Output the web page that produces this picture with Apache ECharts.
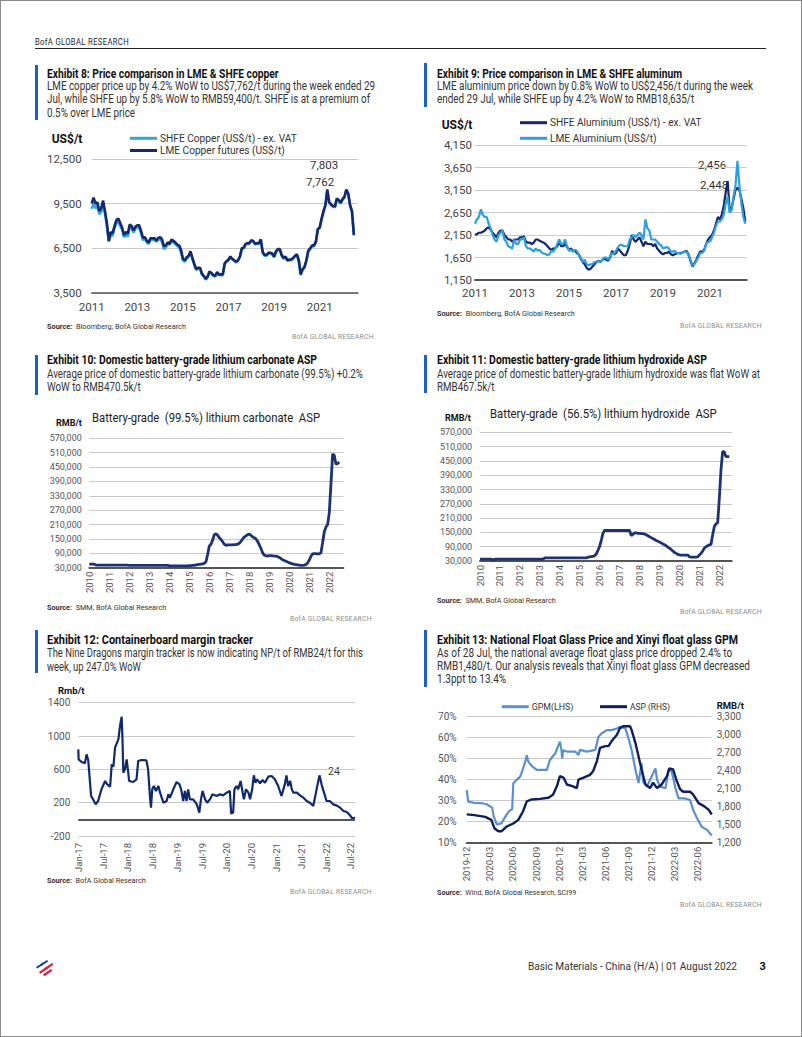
<!DOCTYPE html>
<html><head><meta charset="utf-8">
<script src="https://cdn.jsdelivr.net/npm/echarts@6/dist/echarts.min.js"></script>
<style>
html,body{margin:0;padding:0;background:#fff;}
body{width:802px;height:1037px;position:relative;overflow:hidden;font-family:Roboto,sans-serif;color:#222;}
#frame{position:absolute;left:0;top:0;width:800px;height:1035px;border:1px solid #8a8a8a;}
.t{position:absolute;white-space:nowrap;}
.bar{position:absolute;left:35px;width:3px;background:#1d5fc4;}
.bar.r{left:424px;}
.ttl{font-weight:bold;font-size:12px;line-height:14px;color:#111;}
.sub{font-size:12px;line-height:13.4px;color:#333;}
.src{font-size:8px;line-height:10px;color:#333;}
.bofa{font-size:8px;line-height:10px;color:#8c8c8c;letter-spacing:0.3px;}
.ctitle{font-size:13.5px;line-height:16px;color:#222;}
#chart{position:absolute;left:0;top:0;width:802px;height:1037px;}
</style></head>
<body>
<div id="frame"></div>
<div class="t" data-w="94" style="left:35px;top:36.5px;font-size:8.5px;line-height:10px;letter-spacing:0.4px;color:#222;">BofA GLOBAL RESEARCH</div>
<div style="position:absolute;left:35px;top:47.5px;width:731px;height:1.5px;background:#222;"></div>

<!-- Exhibit 8 -->
<div class="bar" style="top:65px;height:55px;"></div>
<div class="t ttl" data-w="231.6" style="left:46.7px;top:67px;">Exhibit 8: Price comparison in LME &amp; SHFE copper</div>
<div class="t sub" data-w="328" style="left:47.3px;top:80px;">LME copper price up by 4.2% WoW to US$7,762/t during the week ended 29<br>Jul, while SHFE up by 5.8% WoW to RMB59,400/t. SHFE is at a premium of<br>0.5% over LME price</div>
<div class="t src" data-w="139" style="left:47.3px;top:321.7px;"><b>Source:</b>&nbsp; Bloomberg, BofA Global Research</div>
<div class="t bofa" data-w="81.7" style="left:291.7px;top:331.7px;">BofA GLOBAL RESEARCH</div>

<!-- Exhibit 9 -->
<div class="bar r" style="top:63px;height:44px;"></div>
<div class="t ttl" data-w="245" style="left:436.7px;top:67px;">Exhibit 9: Price comparison in LME &amp; SHFE aluminum</div>
<div class="t sub" data-w="316" style="left:437.3px;top:80px;">LME aluminium price down by 0.8% WoW to US$2,456/t during the week<br>ended 29 Jul, while SHFE up by 4.2% WoW to RMB18,635/t</div>
<div class="t src" data-w="137.7" style="left:437.3px;top:309.3px;"><b>Source:</b>&nbsp; Bloomberg, BofA Global Research</div>
<div class="t bofa" data-w="81.7" style="left:680px;top:320.7px;">BofA GLOBAL RESEARCH</div>

<!-- Exhibit 10 -->
<div class="bar" style="top:355px;height:40px;"></div>
<div class="t ttl" data-w="270" style="left:46.7px;top:353px;">Exhibit 10: Domestic battery-grade lithium carbonate ASP</div>
<div class="t sub" data-w="316" style="left:47.3px;top:367.6px;">Average price of domestic battery-grade lithium carbonate (99.5%) +0.2%<br>WoW to RMB470.5k/t</div>
<div class="t ctitle" data-w="228" style="left:91.7px;top:408.7px;">Battery-grade&nbsp; (99.5%) lithium carbonate&nbsp; ASP</div>
<div class="t src" data-w="119.3" style="left:47.3px;top:603.3px;"><b>Source:</b>&nbsp; SMM, BofA Global Research</div>
<div class="t bofa" data-w="81.7" style="left:290px;top:614.3px;">BofA GLOBAL RESEARCH</div>

<!-- Exhibit 11 -->
<div class="bar r" style="top:355px;height:38px;"></div>
<div class="t ttl" data-w="270" style="left:436.7px;top:353px;">Exhibit 11: Domestic battery-grade lithium hydroxide ASP</div>
<div class="t sub" data-w="323" style="left:437.3px;top:367.6px;">Average price of domestic battery-grade lithium hydroxide was flat WoW at<br>RMB467.5k/t</div>
<div class="t ctitle" data-w="226.7" style="left:490px;top:405.3px;">Battery-grade&nbsp; (56.5%) lithium hydroxide&nbsp; ASP</div>
<div class="t src" data-w="118.7" style="left:437.3px;top:596px;"><b>Source:</b>&nbsp; SMM, BofA Global Research</div>
<div class="t bofa" data-w="81.7" style="left:680px;top:606.7px;">BofA GLOBAL RESEARCH</div>

<!-- Exhibit 12 -->
<div class="bar" style="top:630px;height:43px;"></div>
<div class="t ttl" data-w="206" style="left:46.7px;top:633px;">Exhibit 12: Containerboard margin tracker</div>
<div class="t sub" data-w="316" style="left:47.3px;top:647.3px;">The Nine Dragons margin tracker is now indicating NP/t of RMB24/t for this<br>week, up 247.0% WoW</div>
<div class="t src" data-w="98.7" style="left:47.3px;top:876px;"><b>Source:</b>&nbsp; BofA Global Research</div>
<div class="t bofa" data-w="81.7" style="left:290.3px;top:886.7px;">BofA GLOBAL RESEARCH</div>

<!-- Exhibit 13 -->
<div class="bar r" style="top:630px;height:57px;"></div>
<div class="t ttl" data-w="301" style="left:436.7px;top:633px;">Exhibit 13: National Float Glass Price and Xinyi float glass GPM</div>
<div class="t sub" data-w="313" style="left:437.3px;top:647.3px;line-height:13px;">As of 28 Jul, the national average float glass price dropped 2.4% to<br>RMB1,480/t. Our analysis reveals that Xinyi float glass GPM decreased<br>1.3ppt to 13.4%</div>
<div class="t src" data-w="139.3" style="left:437.3px;top:888.3px;"><b>Source:</b>&nbsp; Wind, BofA Global Research, SCI99</div>
<div class="t bofa" data-w="81.7" style="left:680.3px;top:900px;">BofA GLOBAL RESEARCH</div>

<!-- footer -->
<svg style="position:absolute;left:35px;top:959px;" width="24" height="18" viewBox="0 0 24 18">
  <polygon points="1,8 8,3.5 9.2,5 2.2,9.5" fill="#1f3f8f"/>
  <polygon points="5,5.5 12,1 13.2,2.5 6.2,7" fill="#1f3f8f"/>
  <polygon points="4,13 12,7.5 13.3,9.2 5.3,14.7" fill="#e31837"/>
  <polygon points="8,15.5 16,10 17.3,11.7 9.3,17.2" fill="#e31837"/>
  <polygon points="9,9.5 17,4 18.3,5.7 10.3,11.2" fill="#e31837"/>
</svg>
<div class="t" data-w="209" style="left:528px;top:960px;font-size:11px;line-height:14px;color:#333;">Basic Materials - China (H/A) | 01 August 2022</div>
<div class="t" style="left:759.5px;top:960px;font-size:11px;line-height:14px;font-weight:bold;color:#111;">3</div>

<div id="chart"></div>
<script>
// ================= DATA =================
// Exhibit 8 – copper, monthly from Jan 2011 (US$/t)
const cuStartYear = 2011;
const cuSHFE = [
 9150,9500,9200,9350,8800,8950,9400,8800,8000,6950,7400,7350,
 7850,8200,8300,8000,7750,7250,7400,7300,7900,7850,7550,7800,
 7900,7900,7500,7050,7150,6900,6800,7100,7050,7100,6950,7100,
 7100,6950,6450,6550,6800,6750,7000,6900,6800,6650,6550,6250,
 5700,5600,5800,5950,6200,5800,5400,5050,5150,5150,4750,4600,
 4400,4550,4900,4800,4650,4600,4850,4700,4700,4700,5450,5600,
 5700,5900,5750,5650,5550,5650,5900,6450,6500,6750,6800,6800,
 7000,6950,6750,6800,6800,7050,6200,6000,6000,6150,6150,6100,
 5900,6250,6400,6400,6000,5800,5900,5650,5700,5700,5800,5950,
 6050,5650,4700,5050,5200,5650,6300,6450,6650,6650,6900,7750,
 7850,8450,8950,9350,10350,9550,9400,9300,9250,9800,9700,9500,
 9750,9900,10400,10150,9350,8950,7350];
const cuLME = [
 9500,9900,9500,9600,9000,9200,9700,9000,8200,7000,7600,7500,
 8000,8400,8500,8200,7900,7400,7600,7500,8100,8000,7700,7950,
 8050,8050,7650,7200,7250,7000,6900,7200,7150,7200,7000,7200,
 7250,7100,6650,6700,6900,6800,7100,7000,6900,6750,6700,6400,
 5800,5700,5900,6000,6300,5850,5450,5100,5200,5200,4800,4650,
 4450,4600,4950,4850,4700,4650,4900,4750,4750,4750,5500,5650,
 5750,5950,5800,5700,5600,5700,5950,6500,6550,6800,6850,6850,
 7050,7000,6800,6850,6850,7100,6250,6050,6050,6200,6200,6150,
 5950,6300,6450,6450,6050,5850,5950,5700,5750,5750,5850,6000,
 6100,5700,4750,5100,5250,5700,6350,6500,6700,6700,6950,7800,
 7900,8500,9000,9400,10450,9600,9450,9350,9300,9850,9750,9550,
 9800,9950,10450,10200,9400,9000,7400];

// Exhibit 9 – aluminium, monthly from Jan 2011 (US$/t)
const alStartYear = 2011;
const alSHFE = [
 2150,2170,2200,2200,2220,2250,2300,2320,2270,2200,2150,2100,
 2200,2250,2250,2150,2100,2050,2050,2000,2050,2050,2050,2100,
 2100,2120,2000,1980,1980,1950,1980,2050,2050,2020,2000,1980,
 1950,1900,1850,1820,1850,1860,1900,2000,1900,1900,1960,1880,
 1820,1850,1800,1800,1750,1720,1620,1550,1500,1420,1380,1400,
 1450,1500,1550,1580,1550,1600,1620,1600,1580,1650,1800,1720,
 1750,1850,1800,1750,1700,1700,1800,1950,2150,2050,2000,2050,
 2100,2000,1900,2000,1950,1950,1950,1900,1950,1850,1800,1750,
 1720,1750,1750,1780,1720,1700,1720,1740,1750,1750,1760,1780,
 1800,1720,1580,1450,1520,1600,1700,1780,1780,1820,1950,2050,
 2100,2150,2250,2400,2550,2500,2600,2800,3100,3350,2700,2750,
 2950,3150,3200,3150,2950,2750,2450];
const alLME = [
 2400,2500,2550,2720,2600,2550,2550,2400,2300,2150,2050,2000,
 2150,2200,2250,2050,2000,1900,1880,1850,2050,1950,1950,2050,
 2050,2100,1900,1850,1850,1820,1780,1850,1800,1820,1760,1740,
 1730,1700,1720,1800,1780,1850,1950,2050,1950,1950,2050,1900,
 1800,1820,1780,1820,1800,1700,1650,1550,1600,1500,1480,1500,
 1500,1550,1550,1570,1550,1600,1650,1650,1600,1680,1750,1730,
 1800,1880,1930,1930,1900,1900,1900,2050,2100,2150,2100,2150,
 2200,2150,2050,2500,2300,2250,2050,2050,2050,2000,1950,1920,
 1850,1870,1880,1850,1780,1780,1800,1750,1750,1730,1770,1780,
 1780,1700,1600,1480,1500,1580,1650,1750,1750,1800,1950,2000,
 2000,2100,2200,2350,2450,2450,2500,2600,2850,3000,2650,2700,
 3000,3250,3800,3250,2850,2550,2400];

// Exhibit 10 – lithium carbonate, monthly from Jan 2010 (RMB/t)
const liStartYear = 2010;
const li2co3 = [
 45000,45000,45000,45000,41000,41000,41000,41000,41000,41000,41000,41000,
 41000,41000,41000,41000,41000,41000,41000,41000,41000,41000,41000,41000,
 40000,40000,40000,40000,40000,40000,40000,40000,40000,40000,40000,40000,
 40000,40000,40000,40000,40000,40000,40000,40000,40000,40000,40000,40000,
 38000,38000,38000,38000,38000,38000,38000,38000,38000,38000,38000,38000,
 39000,39000,40000,40000,42000,43000,44000,45000,46000,48000,55000,85000,
 120000,128000,145000,168000,172000,165000,155000,148000,138000,128000,123000,125000,
 125000,125000,125000,126000,126000,128000,132000,140000,150000,158000,163000,168000,
 170000,165000,158000,155000,150000,140000,125000,110000,92000,82000,80000,78000,
 80000,80000,79000,78000,78000,76000,73000,68000,63000,60000,57000,54000,
 50000,48000,46000,44000,43000,42000,41000,40000,40000,41000,43000,50000,
 62000,78000,88000,89000,89000,88000,88000,92000,135000,180000,200000,210000,
 260000,380000,505000,498000,462000,465000,471000];

// Exhibit 11 – lithium hydroxide, monthly from Jan 2010 (RMB/t)
const lioh = [
 38000,38000,38000,38000,38000,38000,38000,38000,33000,38000,38000,38000,
 38000,38000,38000,38000,38000,38000,38000,38000,38000,38000,38000,38000,
 38000,38000,38000,38000,38000,38000,38000,38000,38000,38000,38000,38000,
 38000,38000,38000,43000,43000,43000,43000,43000,43000,43000,43000,43000,
 43000,43000,43000,43000,43000,43000,43000,43000,43000,43000,43000,43000,
 43000,43000,43000,43000,43000,46000,47000,48000,49000,52000,60000,75000,
 92000,118000,146000,160000,158000,158000,158000,158000,158000,158000,158000,158000,
 158000,158000,158000,158000,158000,158000,158000,137000,142000,148000,148000,146000,
 146000,145000,145000,143000,140000,136000,132000,128000,124000,120000,116000,113000,
 110000,106000,102000,98000,94000,88000,84000,78000,72000,66000,62000,58000,
 56000,55000,55000,55000,55000,55000,47000,46000,46000,46000,46000,47000,
 55000,62000,72000,84000,90000,94000,98000,100000,140000,175000,186000,190000,
 294000,413000,490000,487000,468000,468000,468000];

// Exhibit 12 – containerboard margin (month index from Jan-17, RMB/t)
const cbTickLabels = ['Jan-17','Jul-17','Jan-18','Jul-18','Jan-19','Jul-19','Jan-20','Jul-20','Jan-21','Jul-21','Jan-22','Jul-22'];
const cbMonth = [0,0.08,0.8,1.6,2.0,2.4,3.1,3.5,4.2,4.8,5.6,6.5,7.0,7.7,8.1,8.5,8.9,9.7,10.1,10.5,10.7,10.9,11.3,11.7,12.1,12.3,13.3,14.1,14.5,15.3,16.5,16.9,17.4,17.6,17.9,18.3,18.8,19.4,19.8,20.6,21.4,21.8,22.2,23.0,23.8,24.5,24.9,25.4,25.8,26.2,26.6,27.0,27.8,28.7,29.3,29.7,30.1,30.7,31.2,31.9,32.5,33.5,34.3,35.1,35.9,36.7,37.0,37.5,37.8,38.3,38.7,39.3,39.8,40.1,40.6,41.2,41.6,42.1,42.5,42.9,43.3,44.0,44.6,45.2,46.0,46.8,47.6,48.4,49.2,50.0,50.4,50.8,51.3,51.7,52.1,52.9,53.7,54.5,55.3,56.1,56.9,57.7,58.4,58.9,59.5,60.1,60.9,61.7,62.5,63.4,64.2,65.0,65.8,66.4,67.0];
const cbValue = [840,720,688,672,780,712,280,248,180,220,360,460,420,392,660,632,860,960,1120,1232,960,560,600,720,560,460,448,480,700,712,708,600,240,140,360,400,340,400,320,200,220,300,260,360,448,420,360,220,340,220,360,240,240,180,80,240,340,240,200,240,300,280,300,288,320,340,72,80,360,400,360,460,320,240,360,320,240,360,528,440,480,432,472,440,512,520,480,400,280,420,528,400,460,360,320,320,288,260,220,200,160,360,528,420,320,220,220,180,168,140,100,88,48,7,24];

// Exhibit 13 – float glass (month index from Dec 2019)
const glTickLabels = ['2019-12','2020-03','2020-06','2020-09','2020-12','2021-03','2021-06','2021-09','2021-12','2022-03','2022-06'];
const gpmMonth = [0,0.2,1,2,2.6,3.3,3.5,3.9,4.5,5.2,5.5,5.9,6.05,6.5,6.9,7.1,7.6,7.8,8.0,8.5,9.1,10.4,10.8,11.5,12.1,12.3,12.4,12.5,13,14.1,14.5,14.7,15.6,16.7,17.1,17.5,18.2,18.8,19.5,19.9,20.6,21,21.4,21.9,22.3,22.5,22.7,22.9,23.4,24,24.5,24.7,25.1,25.8,26.2,26.6,27.1,27.5,28.3,29,29.4,29.9,30.5,31.2,31.8];
const gpmValue = [35,29.5,29,28.8,28.3,26.7,22.7,18.7,19.2,23.5,25,26,38.3,40,41.2,43,48.6,51.7,48.6,46.3,44.7,44.7,49.4,52.6,58.1,54.2,50,54,53.4,53.4,51.7,54.2,53.4,54.2,60.5,62,63.6,63.6,64.4,65.2,64.4,59.7,54.2,44.7,38.4,43,47.8,39,36.7,41.5,45.4,40,36.7,35.9,44.7,44,35.9,31.1,31.1,30.3,25.6,21.6,17.6,16.1,13.4];
const aspMonth = [0,1,2.4,3.2,3.6,4.1,4.5,5.2,6.05,6.7,7.3,7.8,8.4,9.5,10.6,11.2,11.7,12.1,12.6,13,13.8,14.3,14.5,15.1,16,16.4,16.9,17.3,18,18.4,18.8,19.5,19.9,20.3,21.2,21.4,21.9,22.3,22.7,23.2,23.8,24.2,24.7,25.3,26,26.3,26.8,27.2,27.7,28.1,29,29.4,30.1,30.8,31.4,31.8];
const aspValue = [1673,1660,1630,1580,1440,1390,1390,1470,1520,1580,1720,1890,1920,1930,1950,2000,2140,2310,2280,2170,2140,2110,2250,2280,2330,2390,2560,2780,2810,2810,2890,3000,3110,3140,3140,3080,2860,2640,2420,2170,2110,2200,2110,2170,2310,2440,2420,2250,2090,2050,2050,2000,1860,1810,1750,1670];

// ================= TEXT FITTING (layout only) =================
document.querySelectorAll('[data-w]').forEach(el => {
  const nat = el.getBoundingClientRect().width;
  if (nat > 0) {
    el.style.transformOrigin = '0 0';
    el.style.transform = 'scaleX(' + (parseFloat(el.dataset.w) / nat).toFixed(4) + ')';
  }
});
const FONT = "Roboto, sans-serif";
const mctx = document.createElement('canvas').getContext('2d');
function fitSize(text, target, weight, maxSize) {
  mctx.font = (weight || 'normal') + ' 100px ' + FONT;
  const s = 100 * target / mctx.measureText(text).width;
  return Math.min(s, maxSize || 99);
}

// ================= CHART =================
const NAVY = '#14286b', LIGHT = '#34a6de';
const monthly = (start, arr) => arr.map((v, i) => [start + i / 12, v]);
const pairs = (xs, ys) => xs.map((x, i) => [x, ys[i]]);
const fmtK = v => v.toLocaleString('en-US');
const intOnly = v => Number.isInteger(v) ? String(v) : '';
const GRID_LINE = {show: true, lineStyle: {color: '#c9c9c9', width: 1}};
const AX_LINE = (w) => ({show: true, onZero: false, lineStyle: {color: '#555', width: w}});

const grids = [
  {left: 91.7, top: 159, width: 266.3, height: 134},
  {left: 475, top: 145, width: 271.7, height: 135},
  {left: 89.3, top: 438.3, width: 254, height: 129.4},
  {left: 480, top: 432.3, width: 251.7, height: 128.7},
  {left: 78.3, top: 702.7, width: 276.7, height: 133.3},
  {left: 466.7, top: 716.7, width: 245, height: 126}
].map(g => Object.assign({containLabel: false, outerBoundsMode: 'none'}, g));

const xAxes = [
  {gridIndex: 0, type: 'value', min: 2011, max: 2022.68, interval: 2, axisLine: AX_LINE(1.5), axisTick: {show: false}, splitLine: {show: false},
   axisLabel: {color: '#444', fontSize: 11.5, margin: 8, showMaxLabel: false, formatter: intOnly}},
  {gridIndex: 1, type: 'value', min: 2011, max: 2022.56, interval: 2, axisLine: AX_LINE(2), axisTick: {show: false}, splitLine: {show: false},
   axisLabel: {color: '#444', fontSize: 11.5, margin: 7, showMaxLabel: false, formatter: intOnly}},
  {gridIndex: 2, type: 'value', min: 2010, max: 2022.7, interval: 1, axisLine: AX_LINE(2), axisTick: {show: false}, splitLine: {show: false},
   axisLabel: {color: '#555', fontSize: 9.5, margin: 4, rotate: 90, showMaxLabel: false, formatter: intOnly}},
  {gridIndex: 3, type: 'value', min: 2010, max: 2022.62, interval: 1, axisLine: AX_LINE(2), axisTick: {show: false}, splitLine: {show: false},
   axisLabel: {color: '#555', fontSize: 9.5, margin: 4, rotate: 90, showMaxLabel: false, formatter: intOnly}},
  {gridIndex: 4, type: 'value', min: 0, max: 67, interval: 6, axisLine: {show: false}, axisTick: {show: false}, splitLine: {show: false},
   axisLabel: {color: '#555', fontSize: 9.5, margin: 7, rotate: 90, showMaxLabel: false,
     formatter: v => (v % 6 === 0 && cbTickLabels[v / 6]) || ''}},
  {gridIndex: 5, type: 'value', min: 0, max: 31.8, interval: 3, axisLine: AX_LINE(2), axisTick: {show: false}, splitLine: {show: false},
   axisLabel: {color: '#555', fontSize: 9.5, margin: 4, rotate: 90, showMaxLabel: false,
     formatter: v => (v % 3 === 0 && glTickLabels[v / 3]) || ''}}
];

const yAxes = [
  {gridIndex: 0, type: 'value', min: 3500, max: 12500, interval: 3000, axisLine: {show: false}, axisTick: {show: false}, splitLine: GRID_LINE,
   axisLabel: {color: '#444', fontSize: 11.5, margin: 10, formatter: fmtK}},
  {gridIndex: 1, type: 'value', min: 1150, max: 4150, interval: 500, axisLine: {show: false}, axisTick: {show: false}, splitLine: GRID_LINE,
   axisLabel: {color: '#444', fontSize: 11.5, margin: 3, formatter: fmtK}},
  {gridIndex: 2, type: 'value', min: 30000, max: 570000, interval: 60000, axisLine: {show: false}, axisTick: {show: false}, splitLine: GRID_LINE,
   axisLabel: {color: '#555', fontSize: 9, margin: 7.5, formatter: fmtK}},
  {gridIndex: 3, type: 'value', min: 30000, max: 570000, interval: 60000, axisLine: {show: false}, axisTick: {show: false}, splitLine: GRID_LINE,
   axisLabel: {color: '#555', fontSize: 9, margin: 8, formatter: fmtK}},
  {gridIndex: 4, type: 'value', min: -200, max: 1400, interval: 400, axisLine: {show: false}, axisTick: {show: false}, splitLine: GRID_LINE,
   axisLabel: {color: '#555', fontSize: 10, margin: 8, formatter: v => String(v)}},
  {gridIndex: 5, type: 'value', min: 10, max: 70, interval: 10, axisLine: {show: false}, axisTick: {show: false}, splitLine: GRID_LINE,
   axisLabel: {color: '#555', fontSize: 10, margin: 10, formatter: '{value}%'}},
  {gridIndex: 5, type: 'value', position: 'right', min: 1200, max: 3300, interval: 300, axisLine: {show: false}, axisTick: {show: false}, splitLine: {show: false},
   axisLabel: {color: '#555', fontSize: 10, margin: 5, formatter: fmtK}}
];

const line = (name, xi, yi, data, color, width, extra) => Object.assign({
  name, type: 'line', xAxisIndex: xi, yAxisIndex: yi, data, showSymbol: false, symbol: 'none',
  lineStyle: {color, width}, itemStyle: {color}, silent: true, z: 3
}, extra || {});

const series = [
  line('SHFE Copper (US$/t) - ex. VAT', 0, 0, monthly(cuStartYear, cuSHFE), LIGHT, 2.6),
  line('LME Copper futures (US$/t)', 0, 0, monthly(cuStartYear, cuLME), NAVY, 2.6),
  line('SHFE Aluminium (US$/t) - ex. VAT', 1, 1, monthly(alStartYear, alSHFE), NAVY, 2.2),
  line('LME Aluminium (US$/t)', 1, 1, monthly(alStartYear, alLME), '#2c9fdc', 2.2),
  line('Lithium carbonate', 2, 2, monthly(liStartYear, li2co3), '#1c3272', 2.8),
  line('Lithium hydroxide', 3, 3, monthly(liStartYear, lioh), '#1c3272', 2.8),
  line('Containerboard margin', 4, 4, pairs(cbMonth, cbValue), '#0f2a6b', 2.2, {
    markLine: {silent: true, symbol: 'none', label: {show: false}, lineStyle: {color: '#555', width: 2, type: 'solid'}, data: [{yAxis: 0}]}
  }),
  line('GPM(LHS)', 5, 5, pairs(gpmMonth, gpmValue), '#5b8fcd', 2.2),
  line('ASP (RHS)', 5, 6, pairs(aspMonth, aspValue), '#0d1f5c', 2.4)
];

const lg = (name, left, centerY, textWidth) => {
  const size = fitSize(name, textWidth, 'normal', 13);
  return {
    data: [name], left, top: centerY - 5.5, orient: 'vertical', icon: 'rect', itemWidth: 27, itemHeight: 3, itemGap: 0,
    selectedMode: false, padding: 0,
    textStyle: {fontSize: size, lineHeight: 11, color: '#333', fontFamily: FONT, padding: [0, 0, 0, -2]}
  };
};
const legends = [
  lg('SHFE Copper (US$/t) - ex. VAT', 130, 138.3, 137),
  lg('LME Copper futures (US$/t)', 130, 150.5, 125),
  lg('SHFE Aluminium (US$/t) - ex. VAT', 520, 122.7, 151.7),
  lg('LME Aluminium (US$/t)', 520, 138.3, 106.7),
  lg('GPM(LHS)', 501.7, 706.7, 41.7),
  lg('ASP (RHS)', 600, 706.7, 40)
];

const txt = (text, x, y, size, weight, color) => ({
  type: 'text', x, y, silent: true,
  style: {text, fill: color || '#333', fontSize: size, fontWeight: weight || 'normal', fontFamily: FONT, verticalAlign: 'middle'}
});
const graphics = [
  txt('US$/t', 51.7, 139, 12, 'bold', '#111'),
  txt('US$/t', 441.7, 125, 12, 'bold', '#111'),
  txt('RMB/t', 56, 423.3, 9, 'bold', '#111'),
  txt('RMB/t', 445, 417.7, 9, 'bold', '#111'),
  txt('Rmb/t', 58, 690, 9.5, 'bold', '#111'),
  txt('RMB/t', 716.7, 705, 9.5, 'bold', '#111'),
  txt('7,803', 310, 165, 11.5, 'normal', '#333'),
  txt('7,762', 306, 182, 11.5, 'normal', '#333'),
  txt('2,456', 698, 165, 11.5, 'normal', '#333'),
  txt('2,448', 700, 185, 11.5, 'normal', '#333'),
  txt('24', 328, 771.7, 10.5, 'normal', '#333')
];

const chart = echarts.init(document.getElementById('chart'), null, {renderer: 'svg', width: 802, height: 1037});
chart.setOption({
  animation: false,
  backgroundColor: 'transparent',
  textStyle: {fontFamily: FONT},
  grid: grids,
  xAxis: xAxes,
  yAxis: yAxes,
  legend: legends,
  series: series,
  graphic: graphics
});
</script>
</body></html>
